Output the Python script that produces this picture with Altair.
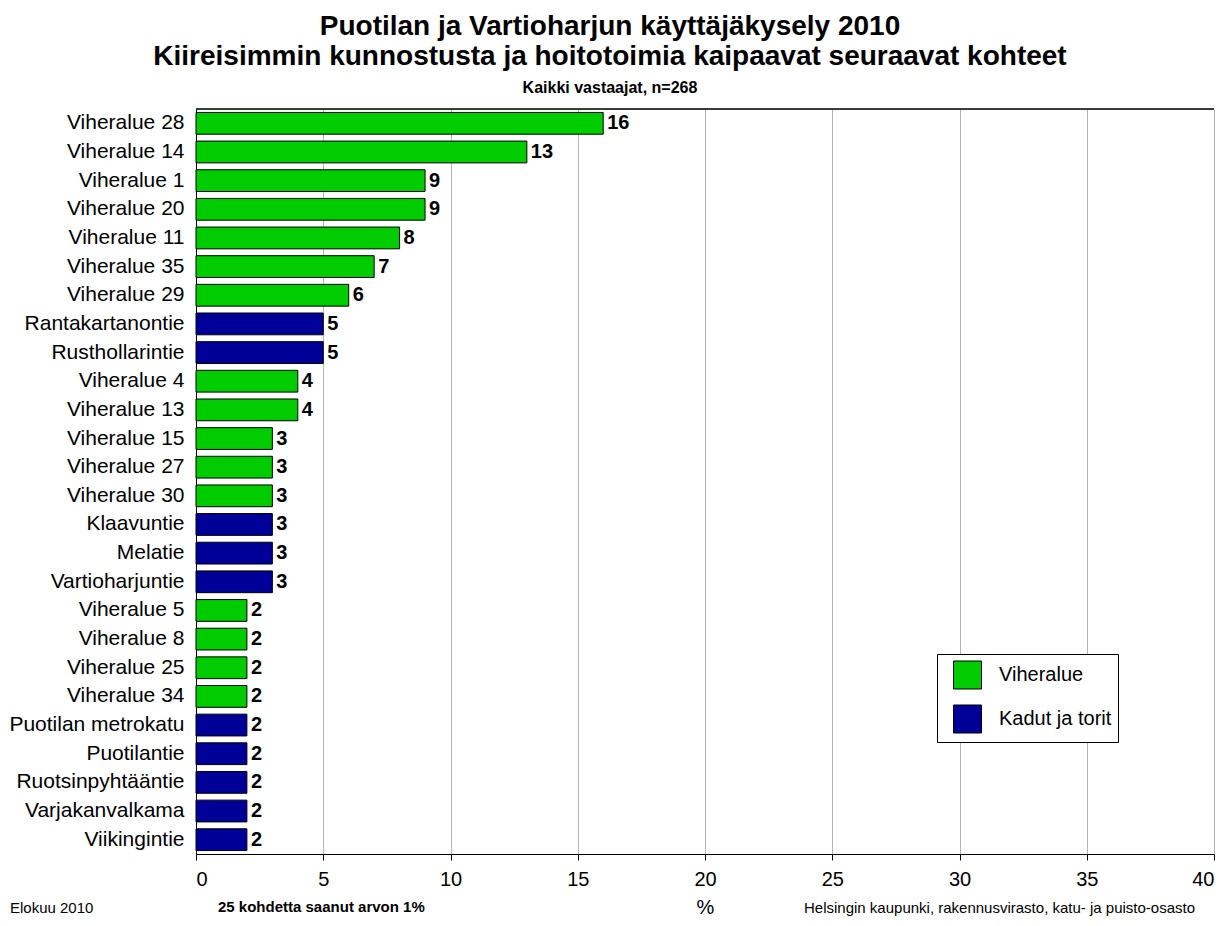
import altair as alt
import pandas as pd

categories = [
    "Viheralue 28", "Viheralue 14", "Viheralue 1", "Viheralue 20", "Viheralue 11",
    "Viheralue 35", "Viheralue 29", "Rantakartanontie", "Rusthollarintie",
    "Viheralue 4", "Viheralue 13", "Viheralue 15", "Viheralue 27", "Viheralue 30",
    "Klaavuntie", "Melatie", "Vartioharjuntie", "Viheralue 5", "Viheralue 8",
    "Viheralue 25", "Viheralue 34", "Puotilan metrokatu", "Puotilantie",
    "Ruotsinpyhtääntie", "Varjakanvalkama", "Viikingintie",
]
values = [16, 13, 9, 9, 8, 7, 6, 5, 5, 4, 4, 3, 3, 3, 3, 3, 3, 2, 2, 2, 2, 2, 2, 2, 2, 2]
groups = [
    "Viheralue", "Viheralue", "Viheralue", "Viheralue", "Viheralue",
    "Viheralue", "Viheralue", "Kadut ja torit", "Kadut ja torit",
    "Viheralue", "Viheralue", "Viheralue", "Viheralue", "Viheralue",
    "Kadut ja torit", "Kadut ja torit", "Kadut ja torit", "Viheralue", "Viheralue",
    "Viheralue", "Viheralue", "Kadut ja torit", "Kadut ja torit",
    "Kadut ja torit", "Kadut ja torit", "Kadut ja torit",
]
group_names = ["Viheralue", "Kadut ja torit"]
group_colors = ["#00CC00", "#000099"]
x_ticks = [0, 5, 10, 15, 20, 25, 30, 35, 40]

title_lines = [
    "Puotilan ja Vartioharjun käyttäjäkysely 2010",
    "Kiireisimmin kunnostusta ja hoitotoimia kaipaavat seuraavat kohteet",
]
subtitle_text = "Kaikki vastaajat, n=268"
note_left = "Elokuu 2010"
note_mid = "25 kohdetta saanut arvon 1%"
note_right = "Helsingin kaupunki, rakennusvirasto, katu- ja puisto-osasto"

df = pd.DataFrame({"kohde": categories, "arvo": values, "ryhma": groups})

FONT = "Liberation Sans"
W, H = 1018, 745

y_enc = alt.Y(
    "kohde:N",
    sort=categories,
    title=None,
    scale=alt.Scale(paddingInner=0.24, paddingOuter=0.12),
    axis=alt.Axis(ticks=False, labelPadding=12, labelFontSize=21, labelColor="black",
                  labelFont=FONT, domainColor="black", labelLimit=300),
)
x_enc = alt.X(
    "arvo:Q",
    title="%",
    scale=alt.Scale(domain=[0, 40], nice=False),
    axis=alt.Axis(values=x_ticks, grid=True, gridColor="#b4b4b4", gridWidth=1,
                  domainColor="black", tickColor="black", tickSize=6,
                  labelFontSize=20, labelFont=FONT, labelColor="black", labelPadding=9,
                  titleFontSize=20, titleFont=FONT, titleFontWeight="normal",
                  titleColor="black", titlePadding=8),
)

base = alt.Chart(df)

bars = base.mark_bar(stroke="black", strokeWidth=1, opacity=1).encode(
    x=x_enc,
    y=y_enc,
    color=alt.Color(
        "ryhma:N",
        scale=alt.Scale(domain=group_names, range=group_colors),
        legend=alt.Legend(
            title=None, orient="none", legendX=741, legendY=545,
            fillColor="white", strokeColor="black", padding=6.5,
            symbolType="square", symbolSize=784, symbolStrokeColor="black",
            symbolStrokeWidth=1, symbolOffset=9.5, symbolOpacity=1,
            labelFontSize=20, labelFont=FONT, labelColor="black",
            labelOffset=17, rowPadding=11,
        ),
    ),
)

labels = base.mark_text(align="left", baseline="middle", dx=4, fontSize=20,
                        fontWeight="bold", font=FONT, color="black").encode(
    x="arvo:Q",
    y=alt.Y("kohde:N", sort=categories),
    text="arvo:Q",
)

one = pd.DataFrame({"a": [0]})
top_rule = alt.Chart(one).mark_rule(color="black", strokeWidth=1.5).encode(
    x=alt.value(0), x2=alt.value(W), y=alt.value(0)
)

def note(txt, x, y, align, bold=False):
    return alt.Chart(one).mark_text(
        align=align, baseline="alphabetic", fontSize=15, font=FONT,
        fontWeight="bold" if bold else "normal", color="black",
    ).encode(x=alt.value(x), y=alt.value(y), text=alt.value(txt))

n1 = note(note_left, -186, 804, "left")
n2 = note(note_mid, 22, 803, "left", bold=True)
n3 = note(note_right, 608, 804, "left")

chart = alt.layer(bars, labels, top_rule, n1, n2, n3).properties(
    width=W,
    height=H,
    autosize=alt.AutoSizeParams(type="none"),
    padding={"left": 188, "top": 101, "right": 6, "bottom": 64},
    title=alt.TitleParams(
        text=title_lines, subtitle=subtitle_text, anchor="middle", dx=-95,
        fontSize=28, fontWeight="bold", font=FONT, color="black", lineHeight=30,
        subtitleFontSize=16, subtitleFontWeight="bold", subtitleFont=FONT,
        subtitleColor="black", subtitlePadding=9, offset=12,
    ),
).configure_view(stroke=None).configure(background="white")

chart.save("out.html", embed_options={"renderer": "svg", "actions": False})
